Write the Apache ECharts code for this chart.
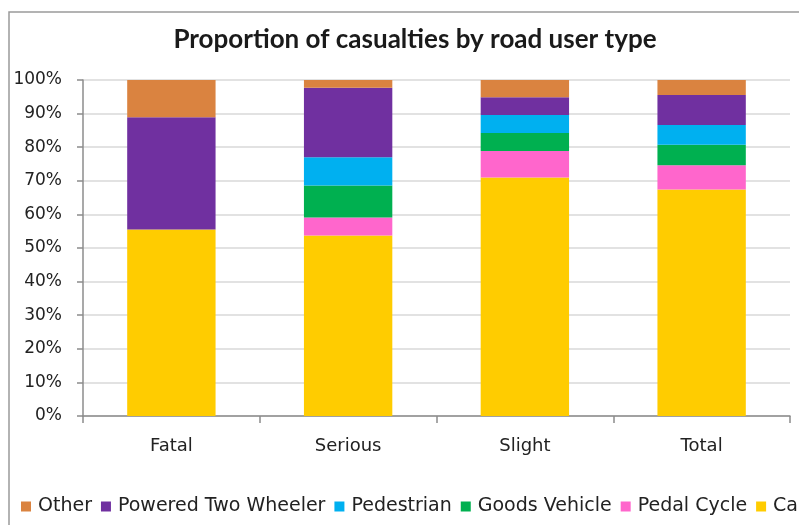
<!DOCTYPE html>
<html>
<head>
<meta charset="utf-8">
<script src="https://cdn.jsdelivr.net/npm/echarts@6/dist/echarts.min.js"></script>
<style>
  html, body { margin: 0; padding: 0; background: #fff; }
  #chart { width: 799px; height: 525px; }
</style>
</head>
<body>
<div id="chart"></div>
<script>
const categories = ['Fatal', 'Serious', 'Slight', 'Total']
const yTicks = [0, 10, 20, 30, 40, 50, 60, 70, 80, 90, 100]

// percentages, bottom of stack first
const car = [55.5, 53.7, 71.0, 67.4]
const pedalCycle = [0, 5.4, 7.9, 7.2]
const goodsVehicle = [0, 9.5, 5.3, 6.1]
const pedestrian = [0, 8.4, 5.4, 5.9]
const poweredTwoWheeler = [33.4, 20.7, 5.3, 8.9]
const other = [11.1, 2.3, 5.1, 4.6]

const legendOrder = ['Other', 'Powered Two Wheeler', 'Pedestrian', 'Goods Vehicle', 'Pedal Cycle', 'Car']

const labelFont = '"DejaVu Sans", Verdana, sans-serif'
const titleFont = 'Lato, "Open Sans", sans-serif'
const chart = echarts.init(document.getElementById('chart'))

function bar(name, data, color) {
  return {
    name, type: 'bar', stack: 'all', data,
    barWidth: '50%',
    itemStyle: { color },
    emphasis: { disabled: true }
  }
}

chart.setOption({
  animation: false,
  textStyle: { fontFamily: labelFont },
  graphic: [{
    type: 'rect',
    shape: { x: 9, y: 12, width: 820, height: 540 },
    style: { fill: 'none', stroke: '#9a9a9a', lineWidth: 1.5 },
    silent: true
  }],
  title: {
    text: 'Proportion of casualties by road user type',
    left: 410, top: 22, textAlign: 'center',
    textStyle: { fontFamily: titleFont, fontSize: 26, fontWeight: 'bold', color: '#1a1a1a' }
  },
  legend: {
    data: legendOrder,
    left: 16, top: 492, width: 1000,
    itemWidth: 10, itemHeight: 10, itemGap: 9,
    icon: 'rect',
    textStyle: { fontFamily: labelFont, fontSize: 19, color: '#222', padding: [0, 0, 0, 2] }
  },
  grid: { left: 83, right: 9, top: 80, bottom: 109 },
  xAxis: {
    type: 'category',
    data: categories,
    axisLine: { lineStyle: { color: '#8c8c8c', width: 1.5 } },
    axisTick: { show: true, length: 7, lineStyle: { color: '#8c8c8c', width: 1.5 } },
    axisLabel: { fontFamily: labelFont, fontSize: 18, color: '#222', margin: 21 }
  },
  yAxis: {
    type: 'value',
    min: yTicks[0], max: yTicks[yTicks.length - 1], interval: 10,
    axisLine: { show: true, lineStyle: { color: '#8c8c8c', width: 1.5 } },
    axisTick: { show: true, length: 6, lineStyle: { color: '#8c8c8c', width: 1.5 } },
    axisLabel: { fontFamily: labelFont, fontSize: 17, color: '#222', margin: 21, formatter: v => v + '%' },
    splitLine: { lineStyle: { color: '#d9d9d9', width: 1.5 } }
  },
  series: [
    bar('Car', car, '#FFCC00'),
    bar('Pedal Cycle', pedalCycle, '#FF66CC'),
    bar('Goods Vehicle', goodsVehicle, '#00B050'),
    bar('Pedestrian', pedestrian, '#00B0F0'),
    bar('Powered Two Wheeler', poweredTwoWheeler, '#7030A0'),
    bar('Other', other, '#DA8340')
  ]
})
</script>
</body>
</html>
